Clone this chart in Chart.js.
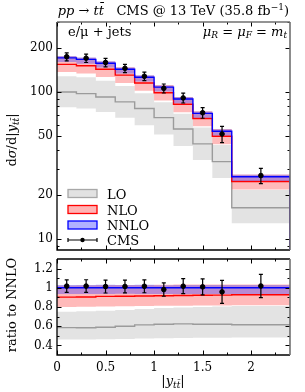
<!DOCTYPE html>
<html lang="en">
<head>
<meta charset="UTF-8" />
<title>ttbar rapidity</title>
<script src="https://cdn.jsdelivr.net/npm/chart.js@4.4.1/dist/chart.umd.min.js"></script>
<style>
  * { margin: 0; padding: 0; box-sizing: border-box; }
  body { width: 305px; height: 392px; background: #fff; position: relative; overflow: hidden; }
  #top { position: absolute; left: 0; top: 0; }
  #ratio { position: absolute; left: 0; top: 254px; }
</style>
</head>
<body>
<canvas id="top" width="305" height="255"></canvas>
<canvas id="ratio" width="305" height="138"></canvas>
<script>
// bins in |y_tt|
const binEdges = [0, 0.2, 0.4, 0.6, 0.8, 1.0, 1.2, 1.4, 1.6, 1.8, 2.4];
const binCentres = [0.1, 0.3, 0.5, 0.7, 0.9, 1.1, 1.3, 1.5, 1.7, 2.1];

// CMS data
const cmsValues = [174, 170, 159, 145, 128, 106, 91.2, 72.3, 51.8, 27.0];
const cmsErrors = [11, 11, 10.5, 9.5, 8.5, 7.5, 7, 6, 6.5, 3.2];

// predictions (central, upper, lower scale variation)
const nnloCentral = [171, 167, 157, 143, 126, 108, 89.7, 71.6, 54.1, 26.5];
const nnloHigh = [176, 172, 162, 147, 130, 111, 92.4, 73.7, 55.7, 27.3];
const nnloLow = [160, 156, 147, 134, 118, 101, 83.9, 66.9, 50.6, 24.8];
const nloCentral = [154.4, 151.1, 142.9, 130.4, 115.3, 99.0, 82.5, 66.0, 50.0, 24.6];
const nloHigh = [175.3, 171.5, 161.7, 147.3, 129.8, 111.5, 92.7, 74.0, 56.0, 27.4];
const nloLow = [136.8, 133.9, 126.4, 115.4, 102.1, 87.7, 72.9, 58.4, 44.1, 21.7];
const loCentral = [100, 97.5, 92.6, 85.7, 77.3, 67.0, 56.0, 44.4, 33.6, 16.3];
const loHigh = [128.3, 126.1, 119.3, 110.1, 98.3, 85.3, 71.3, 57.3, 43.6, 21.5];
const loLow = [78.7, 77.2, 73.0, 66.9, 59.5, 51.3, 42.9, 34.4, 26.0, 12.8];

// ticks
const topMajor = [10, 20, 50, 100, 200];
const topMinor = [9, 30, 40, 60, 70, 80, 90, 300];
const ratioMajor = [0.4, 0.6, 0.8, 1, 1.2];
const ratioMinor = [0.5, 0.7, 0.9, 1.1];
const xMajor = [0, 0.5, 1, 1.5, 2];
const xMinor = [0.25, 0.75, 1.25, 1.75, 2.25];

const SERIF = '"DejaVu Serif", serif';
const LO_FILL = 'rgba(200,200,200,0.5)', LO_LINE = '#9b9b9b';
const NLO_FILL = 'rgba(255,40,40,0.32)', NLO_LINE = '#ff0000';
const NNLO_FILL = 'rgba(50,50,255,0.35)', NNLO_LINE = '#0000ff';

const stairs = (vals) => {
  const pts = vals.map((v, i) => ({ x: binEdges[i], y: v }));
  pts.push({ x: binEdges[binEdges.length - 1], y: vals[vals.length - 1] });
  return pts;
};
const ratioTo = (vals) => vals.map((v, i) => v / nnloCentral[i]);

// horizontal first, then vertical: 'before' interpolation
function bandSets(hi, lo, fill, order) {
  return [
    { data: stairs(hi), stepped: 'before', borderWidth: 0, pointRadius: 0, fill: false, order: order },
    { data: stairs(lo), stepped: 'before', borderWidth: 0, pointRadius: 0, fill: '-1', backgroundColor: fill, order: order }
  ];
}
function lineSet(vals, color, order, drop) {
  const pts = stairs(vals);
  if (drop !== undefined) pts.push({ x: binEdges[binEdges.length - 1], y: drop });
  return { data: pts, stepped: 'before', borderColor: color, borderWidth: 1.4, pointRadius: 0, fill: false, order: order };
}

// text runs with sub/superscripts
function runsWidth(ctx, runs) {
  let w = 0;
  for (const r of runs) { ctx.font = r.f; w += ctx.measureText(r.t).width; }
  return w;
}
function drawRuns(ctx, x, y, runs, align) {
  const w = runsWidth(ctx, runs);
  let cx = align === 'center' ? x - w / 2 : align === 'right' ? x - w : x;
  ctx.fillStyle = '#000';
  ctx.textBaseline = 'alphabetic';
  ctx.textAlign = 'left';
  for (const r of runs) {
    ctx.font = r.f;
    ctx.fillText(r.t, cx, y + (r.dy || 0));
    cx += ctx.measureText(r.t).width;
  }
}
const rm = (s) => s + 'px ' + SERIF;
const it = (s) => 'italic ' + s + 'px ' + SERIF;

function tickMarks(chart, yMajor, yMinor, opts) {
  const { ctx, chartArea: a, scales } = chart;
  ctx.save();
  ctx.strokeStyle = '#000';
  ctx.lineWidth = 1;
  const put = (arr, len) => {
    for (const v of arr) {
      const y = Math.round(scales.y.getPixelForValue(v)) + 0.5;
      if (y < a.top || y > a.bottom) continue;
      ctx.beginPath();
      ctx.moveTo(a.left, y); ctx.lineTo(a.left + len, y);
      ctx.moveTo(a.right, y); ctx.lineTo(a.right - len, y);
      ctx.stroke();
    }
  };
  put(yMajor, 4.5); put(yMinor, 2.5);
  const putX = (arr, len) => {
    for (const v of arr) {
      const x = Math.round(scales.x.getPixelForValue(v)) + 0.5;
      ctx.beginPath();
      ctx.moveTo(x, a.bottom); ctx.lineTo(x, a.bottom - len);
      ctx.moveTo(x, a.top); ctx.lineTo(x, a.top + len);
      ctx.stroke();
    }
  };
  putX(xMajor, 4.5); putX(xMinor, 2.5);
  // frame
  ctx.lineWidth = 1.3;
  ctx.strokeStyle = '#000';
  ctx.beginPath();
  ctx.moveTo(a.left, a.top); ctx.lineTo(a.left, a.bottom); ctx.lineTo(a.right, a.bottom);
  if (opts.topBlack) { ctx.moveTo(a.left, a.top); ctx.lineTo(a.right, a.top); }
  ctx.stroke();
  ctx.strokeStyle = '#707070';
  ctx.lineWidth = 1.6;
  ctx.beginPath();
  if (!opts.topBlack) { ctx.moveTo(a.left, a.top); ctx.lineTo(a.right, a.top); }
  ctx.moveTo(a.right, a.top); ctx.lineTo(a.right, a.bottom);
  ctx.stroke();
  ctx.restore();
}

function errorBars(chart, vals, errs) {
  const { ctx, scales } = chart;
  ctx.save();
  ctx.strokeStyle = '#000';
  ctx.lineWidth = 1.2;
  vals.forEach((v, i) => {
    const x = scales.x.getPixelForValue(binCentres[i]);
    const y1 = scales.y.getPixelForValue(v + errs[i]);
    const y2 = scales.y.getPixelForValue(v - errs[i]);
    ctx.beginPath();
    ctx.moveTo(x, y1); ctx.lineTo(x, y2);
    ctx.moveTo(x - 2, y1); ctx.lineTo(x + 2, y1);
    ctx.moveTo(x - 2, y2); ctx.lineTo(x + 2, y2);
    ctx.stroke();
  });
  ctx.restore();
}

const tickFont = { family: SERIF, size: 12 };
const noPad = (s) => { s.paddingTop = 0; s.paddingBottom = 0; s.paddingLeft = 0; s.paddingRight = 0; };

// ---------- upper panel ----------
const topPlugin = {
  id: 'topDecor',
  afterDatasetsDraw(chart) { errorBars(chart, cmsValues, cmsErrors); },
  afterDraw(chart) {
    const ctx = chart.ctx;
    tickMarks(chart, topMajor, topMinor, { topBlack: false });
    // title
    let size = 13;
    let title;
    do {
      title = [
        { t: 'pp', f: it(size) }, { t: ' \u2192 ', f: rm(size) }, { t: 'tt\u0304', f: it(size) },
        { t: '   CMS @ 13 TeV (35.8 fb', f: rm(size) },
        { t: '\u22121', f: rm(size - 4), dy: -5 }, { t: ')', f: rm(size) }
      ];
      size -= 0.5;
    } while (runsWidth(ctx, title) > 234 && size > 8);
    drawRuns(ctx, 289, 15, title, 'right');
    drawRuns(ctx, 68, 36, [{ t: 'e/\u03bc + jets', f: rm(13) }], 'left');
    drawRuns(ctx, 287, 36, [
      { t: '\u03bc', f: it(13) }, { t: 'R', f: it(9), dy: 2 }, { t: ' = ', f: rm(13) },
      { t: '\u03bc', f: it(13) }, { t: 'F', f: it(9), dy: 2 }, { t: ' = ', f: rm(13) },
      { t: 'm', f: it(13) }, { t: 't', f: it(9), dy: 2 }
    ], 'right');
    // y title
    ctx.save();
    ctx.translate(16, 140);
    ctx.rotate(-Math.PI / 2);
    drawRuns(ctx, 0, 0, [
      { t: 'd', f: rm(13) }, { t: '\u03c3', f: it(13) }, { t: '/d|', f: rm(13) }, { t: 'y', f: it(13) },
      { t: 'tt\u0304', f: it(9), dy: 3 }, { t: '|', f: rm(13) }
    ], 'center');
    ctx.restore();
    // legend
    const lx = 68, lw = 29;
    const rows = [
      { label: 'LO', fill: '#e2e2e2', line: '#a8a8a8', y: 189.5 },
      { label: 'NLO', fill: '#ffb4b4', line: '#ff0000', y: 205.5 },
      { label: 'NNLO', fill: '#b0b0ff', line: '#0000ff', y: 221 }
    ];
    ctx.save();
    rows.forEach(r => {
      ctx.fillStyle = r.fill;
      ctx.fillRect(lx, r.y, lw, 8);
      ctx.strokeStyle = r.line;
      ctx.lineWidth = 1.3;
      ctx.strokeRect(lx, r.y, lw, 8);
      drawRuns(ctx, 107, r.y + 9, [{ t: r.label, f: rm(13) }], 'left');
    });
    ctx.strokeStyle = '#000';
    ctx.lineWidth = 1.2;
    ctx.beginPath();
    ctx.moveTo(lx, 240); ctx.lineTo(lx + lw, 240);
    ctx.moveTo(lx, 238); ctx.lineTo(lx, 242);
    ctx.moveTo(lx + lw, 238); ctx.lineTo(lx + lw, 242);
    ctx.stroke();
    ctx.fillStyle = '#000';
    ctx.beginPath(); ctx.arc(lx + lw / 2, 240, 2.2, 0, Math.PI * 2); ctx.fill();
    drawRuns(ctx, 107, 245, [{ t: 'CMS', f: rm(13) }], 'left');
    ctx.restore();
  }
};

const yMinTop = 8.4;
new Chart(document.getElementById('top'), {
  type: 'line',
  data: {
    datasets: [
      { data: cmsValues.map((v, i) => ({ x: binCentres[i], y: v })), showLine: false, pointRadius: 2.3,
        pointBackgroundColor: '#000', pointBorderColor: '#000', order: 0 },
      lineSet(nnloCentral, NNLO_LINE, 1, yMinTop),
      ...bandSets(nnloHigh, nnloLow, NNLO_FILL, 2),
      lineSet(nloCentral, NLO_LINE, 3, yMinTop),
      ...bandSets(nloHigh, nloLow, NLO_FILL, 4),
      lineSet(loCentral, LO_LINE, 5),
      ...bandSets(loHigh, loLow, LO_FILL, 6)
    ]
  },
  options: {
    responsive: false,
    animation: false,
    layout: { padding: { left: 0, right: 15, top: 22, bottom: 1 } },
    plugins: { legend: { display: false }, tooltip: { enabled: false } },
    scales: {
      x: { type: 'linear', min: 0, max: 2.4, display: false },
      y: {
        type: 'logarithmic', min: yMinTop, max: 300,
        afterFit: (s) => { s.width = 57; noPad(s); },
        afterBuildTicks: (s) => { s.ticks = topMajor.map(v => ({ value: v })); },
        grid: { display: false, drawTicks: false },
        border: { display: false },
        ticks: { font: tickFont, color: '#000', padding: 4, callback: (v) => String(v) }
      }
    }
  },
  plugins: [topPlugin]
});

// ---------- ratio panel ----------
const ratioPlugin = {
  id: 'ratioDecor',
  afterDatasetsDraw(chart) { errorBars(chart, ratioTo(cmsValues), ratioTo(cmsErrors)); },
  afterDraw(chart) {
    const ctx = chart.ctx;
    tickMarks(chart, ratioMajor, ratioMinor, { topBlack: true });
    ctx.save();
    ctx.translate(16, 51);
    ctx.rotate(-Math.PI / 2);
    drawRuns(ctx, 0, 0, [{ t: 'ratio to NNLO', f: rm(13) }], 'center');
    ctx.restore();
    drawRuns(ctx, 173, 131, [
      { t: '|', f: rm(13) }, { t: 'y', f: it(13) }, { t: 'tt\u0304', f: it(9), dy: 3 }, { t: '|', f: rm(13) }
    ], 'center');
  }
};

new Chart(document.getElementById('ratio'), {
  type: 'line',
  data: {
    datasets: [
      { data: ratioTo(cmsValues).map((v, i) => ({ x: binCentres[i], y: v })), showLine: false, pointRadius: 2.3,
        pointBackgroundColor: '#000', pointBorderColor: '#000', order: 0 },
      lineSet(ratioTo(nnloCentral), NNLO_LINE, 1),
      ...bandSets(ratioTo(nnloHigh), ratioTo(nnloLow), NNLO_FILL, 2),
      lineSet(ratioTo(nloCentral), NLO_LINE, 3),
      ...bandSets(ratioTo(nloHigh), ratioTo(nloLow), NLO_FILL, 4),
      lineSet(ratioTo(loCentral), LO_LINE, 5),
      ...bandSets(ratioTo(loHigh), ratioTo(loLow), LO_FILL, 6)
    ]
  },
  options: {
    responsive: false,
    animation: false,
    layout: { padding: { left: 0, right: 15, top: 0, bottom: 0 } },
    plugins: { legend: { display: false }, tooltip: { enabled: false } },
    scales: {
      x: {
        type: 'linear', min: 0, max: 2.4,
        afterFit: (s) => { s.height = 37; noPad(s); },
        afterBuildTicks: (s) => { s.ticks = xMajor.map(v => ({ value: v })); },
        grid: { display: false, drawTicks: false },
        border: { display: false },
        ticks: { font: tickFont, color: '#000', padding: 6, maxRotation: 0, callback: (v) => String(v) }
      },
      y: {
        type: 'linear', min: 0.3, max: 1.3,
        afterFit: (s) => { s.width = 57; noPad(s); },
        afterBuildTicks: (s) => { s.ticks = ratioMajor.map(v => ({ value: v })); },
        grid: { display: false, drawTicks: false },
        border: { display: false },
        ticks: { font: tickFont, color: '#000', padding: 4, callback: (v) => String(+v.toFixed(1)) }
      }
    }
  },
  plugins: [ratioPlugin]
});
</script>
</body>
</html>
